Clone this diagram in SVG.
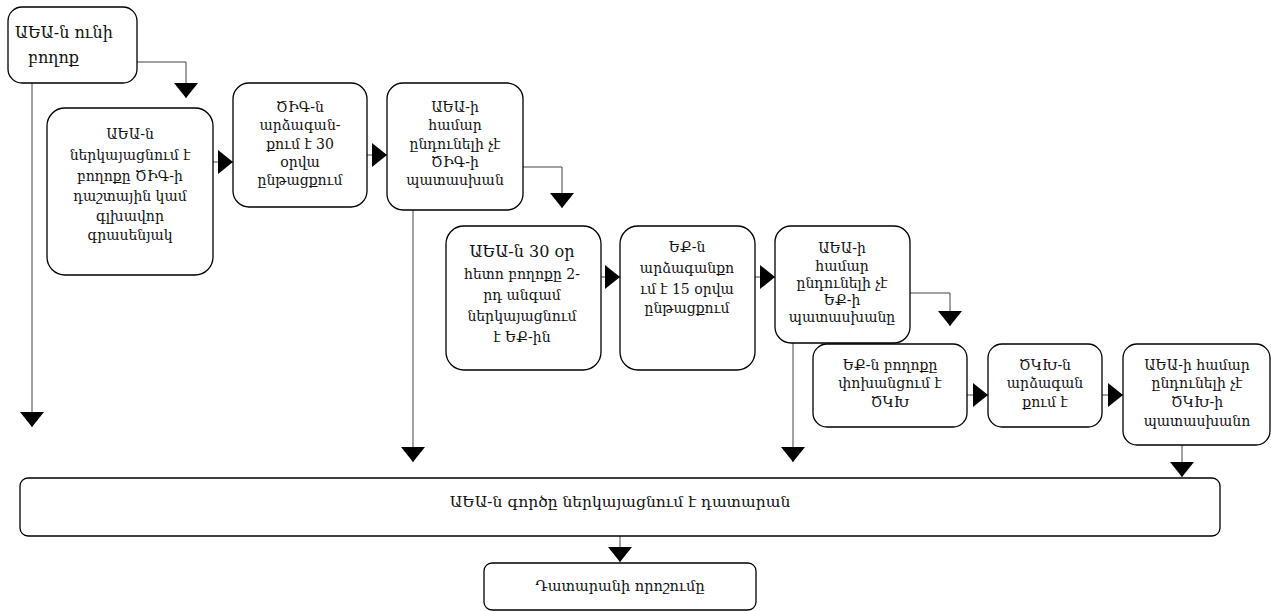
<svg xmlns="http://www.w3.org/2000/svg" width="1271" height="611" viewBox="0 0 1271 611">
<style>
.box{fill:#fff;stroke:#000;stroke-width:1.3}
.t{font-family:"DejaVu Serif","Liberation Serif",serif;font-size:14px;fill:#111;text-anchor:middle}
.tl{font-size:16px}
.c{fill:none;stroke:#444;stroke-width:1}
</style>
<defs>
<marker id="ah" viewBox="0 0 15 24" refX="15" refY="12" markerWidth="15" markerHeight="24" markerUnits="userSpaceOnUse" orient="auto">
<path d="M0,0 L15,12 L0,24 z" fill="#000"/>
</marker>
</defs>
<rect width="1271" height="611" fill="#fff"/>
<g id="connectors">
<path class="c" d="M137,62 H186 V98" marker-end="url(#ah)"/>
<path class="c" d="M32,75 V427" marker-end="url(#ah)"/>
<path class="c" d="M213,162 H233" marker-end="url(#ah)"/>
<path class="c" d="M367,155 H387" marker-end="url(#ah)"/>
<path class="c" d="M523,167 H562 V208" marker-end="url(#ah)"/>
<path class="c" d="M413,200 V462" marker-end="url(#ah)"/>
<path class="c" d="M600,277 H620" marker-end="url(#ah)"/>
<path class="c" d="M755,277 H775" marker-end="url(#ah)"/>
<path class="c" d="M910,293 H950 V326" marker-end="url(#ah)"/>
<path class="c" d="M793,325 V462" marker-end="url(#ah)"/>
<path class="c" d="M967,395 H988" marker-end="url(#ah)"/>
<path class="c" d="M1102,395 H1123" marker-end="url(#ah)"/>
<path class="c" d="M1182,445 V477" marker-end="url(#ah)"/>
<path class="c" d="M620,536 V562" marker-end="url(#ah)"/>
</g>
<g id="n1">
<rect class="box" x="8" y="7" width="129" height="76" rx="14"/>
<text class="t tl" style="text-anchor:start" x="15" y="38">ԱԵԱ-ն ունի</text>
<text class="t tl" style="text-anchor:start" x="28" y="63">բողոք</text>
</g>
<g id="n2">
<rect class="box" x="47" y="108" width="166" height="167" rx="18"/>
<text class="t" x="130" y="139">ԱԵԱ-ն</text>
<text class="t" x="130" y="160">ներկայացնում է</text>
<text class="t" x="130" y="181">բողոքը ԾԻԳ-ի</text>
<text class="t" x="130" y="201">դաշտային կամ</text>
<text class="t" x="130" y="221">գլխավոր</text>
<text class="t" x="130" y="240">գրասենյակ</text>
</g>
<g id="n3">
<rect class="box" x="233" y="83" width="134" height="124" rx="16"/>
<text class="t" x="300" y="112">ԾԻԳ-ն</text>
<text class="t" x="300" y="130">արձագան-</text>
<text class="t" x="300" y="149">քում է 30</text>
<text class="t" x="300" y="167">օրվա</text>
<text class="t" x="300" y="185">ընթացքում</text>
</g>
<g id="n4">
<rect class="box" x="387" y="83" width="136" height="127" rx="16"/>
<text class="t" x="455" y="112">ԱԵԱ-ի</text>
<text class="t" x="455" y="130">համար</text>
<text class="t" x="455" y="149">ընդունելի չէ</text>
<text class="t" x="455" y="167">ԾԻԳ-ի</text>
<text class="t" x="455" y="185">պատասխան</text>
</g>
<g id="n5">
<rect class="box" x="446" y="226" width="155" height="144" rx="18"/>
<text class="t tl" x="522" y="257">ԱԵԱ-ն 30 օր</text>
<text class="t" x="522" y="279">հետո բողոքը 2-</text>
<text class="t" x="522" y="300">րդ անգամ</text>
<text class="t" x="522" y="321">ներկայացնում</text>
<text class="t" x="522" y="342">է  ԵՔ-ին</text>
</g>
<g id="n6">
<rect class="box" x="620" y="226" width="135" height="144" rx="18"/>
<text class="t" x="687" y="252">ԵՔ-ն</text>
<text class="t" x="687" y="273">արձագանքո</text>
<text class="t" x="687" y="294">ւմ է 15 օրվա</text>
<text class="t" x="687" y="313">ընթացքում</text>
</g>
<g id="n7">
<rect class="box" x="775" y="226" width="135" height="117" rx="16"/>
<text class="t" x="842" y="253">ԱԵԱ-ի</text>
<text class="t" x="842" y="271">համար</text>
<text class="t" x="842" y="288">ընդունելի չէ</text>
<text class="t" x="842" y="305">ԵՔ-ի</text>
<text class="t" x="842" y="322">պատասխանը</text>
</g>
<g id="n8">
<rect class="box" x="813" y="344" width="154" height="83" rx="14"/>
<text class="t" x="890" y="370">ԵՔ-ն բողոքը</text>
<text class="t" x="890" y="388">փոխանցում է</text>
<text class="t" x="890" y="407">ԾԿԽ</text>
</g>
<g id="n9">
<rect class="box" x="988" y="344" width="114" height="83" rx="14"/>
<text class="t" x="1045" y="370">ԾԿԽ-ն</text>
<text class="t" x="1045" y="388">արձագան</text>
<text class="t" x="1045" y="407">քում է</text>
</g>
<g id="n10">
<rect class="box" x="1123" y="344" width="147" height="101" rx="14"/>
<text class="t" x="1197" y="370">ԱԵԱ-ի համար</text>
<text class="t" x="1197" y="388">ընդունելի չէ</text>
<text class="t" x="1197" y="407">ԾԿԽ-ի</text>
<text class="t" x="1197" y="426">պատասխանո</text>
</g>
<g id="n11">
<rect class="box" x="20" y="478" width="1200" height="58" rx="8"/>
<text class="t" style="font-size:15.5px" x="620" y="507">ԱԵԱ-ն գործը ներկայացնում է դատարան</text>
</g>
<g id="n12">
<rect class="box" x="484" y="563" width="272" height="47" rx="8"/>
<text class="t" style="font-size:14.5px" x="620" y="591">Դատարանի որոշումը</text>
</g>
</svg>
